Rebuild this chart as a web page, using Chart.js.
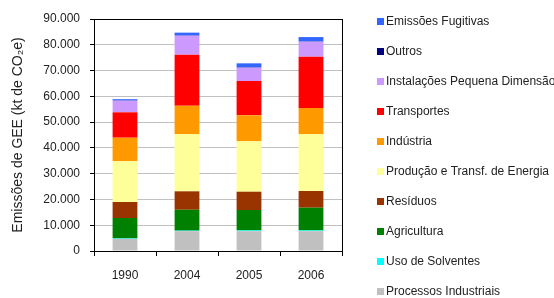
<!DOCTYPE html>
<html>
<head>
<meta charset="utf-8">
<script src="https://cdn.jsdelivr.net/npm/chart.js@4/dist/chart.umd.min.js"></script>
<style>
  html, body { margin: 0; padding: 0; background: #fff; }
  #wrap { width: 554px; height: 298px; }
</style>
</head>
<body>
<div id="wrap"><canvas id="gee"></canvas></div>
<script>
const years = ["1990", "2004", "2005", "2006"];

const processos = [4700, 7700, 7700, 7700];
const solventes = [200, 200, 300, 300];
const agricultura = [7900, 8100, 7900, 8800];
const residuos = [6200, 7150, 7100, 6470];
const energia = [15800, 22230, 19550, 22110];
const industria = [9150, 10980, 10090, 10090];
const transportes = [9850, 19800, 13300, 19900];
const instalacoes = [4500, 7350, 5160, 5820];
const outros = [100, 100, 100, 100];
const fugitivas = [500, 1100, 1600, 1700];

const yTicks = [0, 10000, 20000, 30000, 40000, 50000, 60000, 70000, 80000, 90000];

const fmt = (v) => String(v).replace(/\B(?=(\d{3})+(?!\d))/g, ".");

Chart.defaults.font.family = "'Liberation Sans', Arial, sans-serif";
Chart.defaults.font.size = 12;
Chart.defaults.color = "#222";

// legend drawn on the right, top item first (reverse stack order)
const sideLegend = {
  id: "sideLegend",
  afterDraw(chart) {
    const ctx = chart.ctx;
    const sets = chart.data.datasets.slice().reverse();
    ctx.save();
    ctx.font = "12px 'Liberation Sans', Arial, sans-serif";
    ctx.textBaseline = "middle";
    sets.forEach((ds, i) => {
      const y = 22 + i * 30;
      ctx.fillStyle = ds.backgroundColor;
      ctx.fillRect(377, y - 4, 7, 7);
      ctx.fillStyle = "#222";
      ctx.fillText(ds.label, 386, y);
    });
    ctx.restore();
  },
};

// black frame round the plot area
const frame = {
  id: "frame",
  afterDatasetsDraw(chart) {
    const a = chart.chartArea;
    const ctx = chart.ctx;
    ctx.save();
    ctx.strokeStyle = "#000";
    ctx.lineWidth = 1;
    ctx.strokeRect(Math.round(a.left) + 0.5, Math.round(a.top) + 0.5,
      Math.round(a.right - a.left), Math.round(a.bottom - a.top));
    ctx.restore();
  },
};

const ds = (label, data, color) => ({
  label: label,
  data: data,
  backgroundColor: color,
  borderWidth: 0,
  categoryPercentage: 1,
  barPercentage: 0.4,
});

new Chart(document.querySelector("#gee").getContext("2d"), {
  type: "bar",
  data: {
    labels: years,
    datasets: [
      ds("Processos Industriais", processos, "#c0c0c0"),
      ds("Uso de Solventes", solventes, "#00ffff"),
      ds("Agricultura", agricultura, "#008000"),
      ds("Resíduos", residuos, "#993300"),
      ds("Produção e Transf. de Energia", energia, "#ffff99"),
      ds("Indústria", industria, "#ff9900"),
      ds("Transportes", transportes, "#ff0000"),
      ds("Instalações Pequena Dimensão", instalacoes, "#cc99ff"),
      ds("Outros", outros, "#000080"),
      ds("Emissões Fugitivas", fugitivas, "#3366ff"),
    ],
  },
  options: {
    responsive: true,
    maintainAspectRatio: false,
    animation: false,
    layout: {
      padding: { top: 19, right: 212, bottom: 0, left: 0 },
    },
    plugins: {
      legend: { display: false },
      tooltip: { enabled: false },
    },
    scales: {
      x: {
        stacked: true,
        grid: {
          display: true,
          drawOnChartArea: false,
          tickLength: 5,
          tickColor: "#000",
        },
        border: { color: "#000" },
        ticks: { padding: 12 },
        afterFit(scale) { scale.height = 47; },
      },
      y: {
        stacked: true,
        min: 0,
        max: 90000,
        afterBuildTicks(scale) {
          scale.ticks = yTicks.map((v) => ({ value: v }));
        },
        grid: {
          color: "#c0c0c0",
          tickLength: 4,
          tickColor: "#000",
        },
        border: { color: "#000" },
        ticks: {
          padding: 10,
          callback: (v) => fmt(v),
        },
        title: {
          display: true,
          text: "Emissões de GEE (kt de CO₂e)",
          font: { size: 14 },
          padding: { top: 10, bottom: 0 },
        },
        afterFit(scale) { scale.width = 94; },
      },
    },
  },
  plugins: [frame, sideLegend],
});
</script>
</body>
</html>
